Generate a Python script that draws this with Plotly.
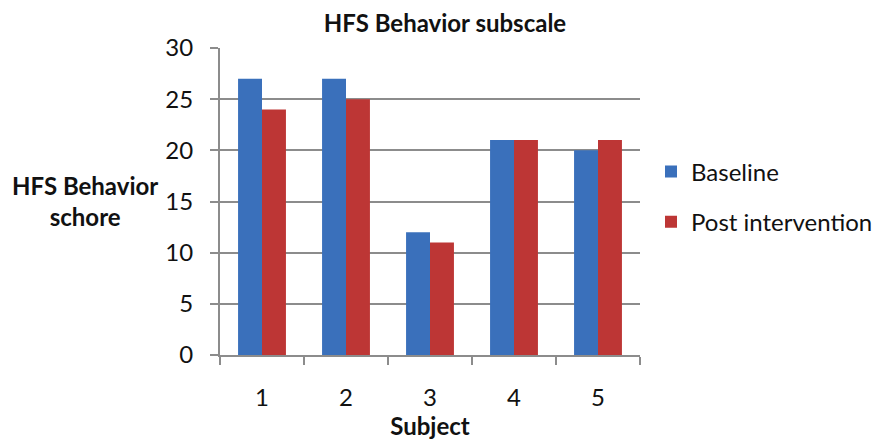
import plotly.graph_objects as go

subjects = ["1", "2", "3", "4", "5"]
baseline = [27, 27, 12, 21, 20]
post_intervention = [24, 25, 11, 21, 21]
y_ticks = [0, 5, 10, 15, 20, 25, 30]

FONT = "Lato, Open Sans, sans-serif"
GRID = "#8c8c8c"

fig = go.Figure()
fig.add_trace(go.Bar(
    x=subjects, y=baseline, name="Baseline", legendgroup="a",
    marker=dict(color="#3a70bb", line=dict(width=0)),
))
fig.add_trace(go.Bar(
    x=subjects, y=post_intervention, name="Post intervention", legendgroup="b",
    marker=dict(color="#bd3635", line=dict(width=0)),
))

fig.update_layout(
    width=889, height=443,
    margin=dict(l=220, r=249, t=48, b=88, autoexpand=False),
    paper_bgcolor="white", plot_bgcolor="white",
    font=dict(family=FONT, size=24, color="#111111"),
    barmode="group", bargap=0.43, bargroupgap=0,
    title=dict(text="<b>HFS Behavior subscale</b>", x=445/889, xanchor="center",
               y=1 - 24/443, yanchor="middle", font=dict(size=24, family=FONT)),
    legend=dict(xref="container", x=651/889, xanchor="left",
                yref="container", y=1 - 197/443, yanchor="middle",
                font=dict(size=24), tracegroupgap=16,
                traceorder="grouped", itemwidth=30, bgcolor="rgba(0,0,0,0)"),
    showlegend=True,
)

fig.update_xaxes(
    showline=True, linecolor=GRID, linewidth=2,
    ticks="outside", tickson="boundaries", ticklen=8, tickcolor=GRID, tickwidth=2,
    ticklabelstandoff=20, tickfont=dict(size=24),
    title=dict(text="<b>Subject</b>", font=dict(size=24), standoff=7),
)
fig.update_yaxes(
    range=[0, 30], tickvals=y_ticks, showline=True, linecolor=GRID, linewidth=2,
    ticks="outside", ticklen=8, tickcolor=GRID, tickwidth=2,
    showgrid=True, gridcolor=GRID, gridwidth=2, zeroline=False,
    ticklabelstandoff=12, tickfont=dict(size=24),
)

fig.add_annotation(
    text="<b>HFS Behavior<br>schore</b>", xref="paper", yref="paper",
    x=-135/420, y=1 - (201 - 48)/307, xanchor="center", yanchor="middle",
    showarrow=False, align="center", font=dict(size=24, family=FONT),
)

fig.write_html("out.html")
